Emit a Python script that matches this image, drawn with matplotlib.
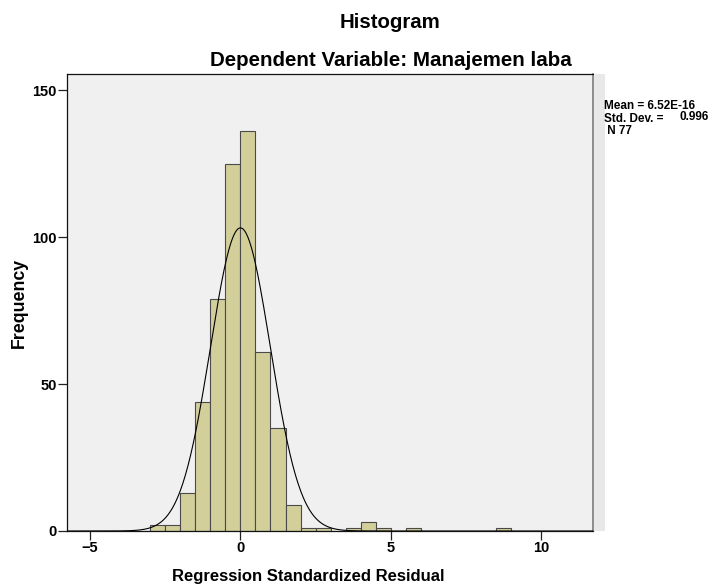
import numpy as np
import matplotlib.pyplot as plt
from matplotlib.patches import Rectangle

# histogram bins (left edges, width 0.5) and counts
bin_left = [-3.0, -2.5, -2.0, -1.5, -1.0, -0.5, 0.0, 0.5, 1.0, 1.5, 2.0, 2.5,
            3.0, 3.5, 4.0, 4.5, 5.0, 5.5, 6.0, 6.5, 7.0, 7.5, 8.0, 8.5]
counts = [2, 2, 13, 44, 79, 125, 136, 61, 35, 9, 1, 1,
          0, 1, 3, 1, 0, 1, 0, 0, 0, 0, 0, 1]
bin_width = 0.5
mean = 0.0
std_dev = 0.996
xticks = [-5, 0, 5, 10]
yticks = [0, 50, 100, 150]

plt.rcParams['font.family'] = ['Liberation Sans', 'DejaVu Sans']

fig = plt.figure(figsize=(7.1, 5.86), dpi=100)
ax = fig.add_axes([67 / 710, 55 / 586, 526 / 710, 457 / 586])
ax.set_facecolor('#F0F0F0')

# grey strip to the right of the plot frame
fig.patches.append(Rectangle((594 / 710, 55 / 586), 11 / 710, 457 / 586,
                             transform=fig.transFigure, facecolor='#E8E8E8',
                             edgecolor='none', zorder=0))

bl = np.array(bin_left)
ct = np.array(counts)
keep = ct > 0
ax.bar(bl[keep], ct[keep], width=bin_width, align='edge',
       color='#D3CF9B', edgecolor='#4a4a4a', linewidth=0.8, zorder=2)

n_total = ct.sum()
xs = np.linspace(-5.77, 11.73, 600)
ys = n_total * bin_width * np.exp(-0.5 * ((xs - mean) / std_dev) ** 2) / (std_dev * np.sqrt(2 * np.pi))
ax.plot(xs, ys, color='black', linewidth=0.8, zorder=3)

ax.set_xlim(-5.77, 11.73)
ax.set_ylim(0, 155.5)
ax.set_xticks(xticks)
ax.set_yticks(yticks)
ax.tick_params(direction='out', length=6.5, width=0.9, colors='#222222',
               labelcolor='black', labelsize=10.5, pad=1)
for lab in ax.get_xticklabels() + ax.get_yticklabels():
    lab.set_fontweight('bold')

for side in ['left', 'bottom', 'top']:
    ax.spines[side].set_color('#111111')
    ax.spines[side].set_linewidth(0.9)
ax.spines['right'].set_color('#7a7a7a')
ax.spines['right'].set_linewidth(1.2)

fig.text(390 / 710, 1 - 23 / 586, 'Histogram', ha='center', va='center',
         fontsize=14.7, fontweight='bold')
fig.text(391 / 710, 1 - 61 / 586, 'Dependent Variable: Manajemen laba',
         ha='center', va='center', fontsize=14.8, fontweight='bold')
fig.text(308 / 710, 1 - 576 / 586, 'Regression Standardized Residual',
         ha='center', va='center', fontsize=12, fontweight='bold')
fig.text(19 / 710, 1 - 303 / 586, 'Frequency', ha='center', va='center',
         rotation=90, fontsize=12.8, fontweight='bold')

fig.text(604 / 710, 1 - 106 / 586, 'Mean = 6.52E-16', ha='left', va='center',
         fontsize=8.5, fontweight='bold')
fig.text(604 / 710, 1 - 119.5 / 586, 'Std. Dev. = ', ha='left', va='center',
         fontsize=8.5, fontweight='bold')
fig.text(679 / 710, 1 - 117 / 586, '0.996', ha='left', va='center',
         fontsize=8.5, fontweight='bold')
fig.text(604 / 710, 1 - 131 / 586, ' N 77', ha='left', va='center',
         fontsize=8.5, fontweight='bold')

fig.savefig('out.png', dpi=100)
plt.close(fig)
